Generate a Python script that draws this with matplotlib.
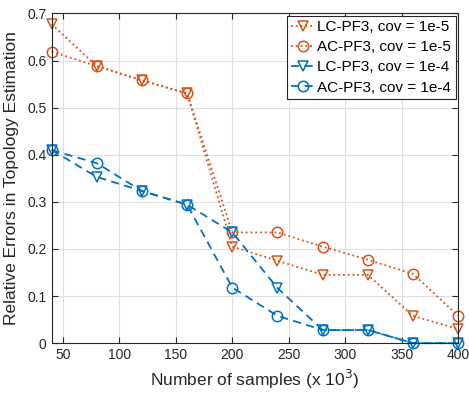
import matplotlib
matplotlib.use("Agg")
import matplotlib.pyplot as plt
from matplotlib.ticker import FuncFormatter

plt.rcParams["font.family"] = ["Liberation Sans", "DejaVu Sans"]

samples = [40, 80, 120, 160, 200, 240, 280, 320, 360, 400]
lc_cov5 = [0.677, 0.588, 0.558, 0.530, 0.205, 0.175, 0.145, 0.145, 0.058, 0.030]
ac_cov5 = [0.619, 0.588, 0.558, 0.530, 0.235, 0.235, 0.205, 0.177, 0.147, 0.058]
lc_cov4 = [0.410, 0.353, 0.323, 0.294, 0.235, 0.117, 0.028, 0.028, 0.0, 0.0]
ac_cov4 = [0.410, 0.382, 0.323, 0.294, 0.118, 0.058, 0.028, 0.028, 0.0, 0.0]

orange = "#D95319"
blue = "#0072BD"

fig = plt.figure(figsize=(4.69, 3.94), dpi=100)
ax = fig.add_axes([0.110, 0.129, 0.867, 0.837])

style = dict(markersize=7.5, markerfacecolor="none", markeredgewidth=1.1,
             linewidth=1.3, clip_on=False)
ax.plot(samples, lc_cov5, ":", color=orange, marker="v",
        label="LC-PF3, cov = 1e-5", **style)
ax.plot(samples, ac_cov5, ":", color=orange, marker="o",
        label="AC-PF3, cov = 1e-5", **style)
ax.plot(samples, lc_cov4, "--", color=blue, marker="v", dashes=(4.5, 3),
        label="LC-PF3, cov = 1e-4", **style)
ax.plot(samples, ac_cov4, "--", color=blue, marker="o", dashes=(4.5, 3),
        label="AC-PF3, cov = 1e-4", **style)

ax.set_xlim(40, 400)
ax.set_ylim(0, 0.7)
ax.set_xticks(range(50, 401, 50))
ax.set_yticks([i / 10 for i in range(8)])
ax.yaxis.set_major_formatter(FuncFormatter(lambda v, p: f"{v:g}"))
ax.tick_params(direction="in", length=4, labelsize=10, colors="#262626")
ax.tick_params(top=True, right=True)
ax.grid(True, color="#dfdfdf", linewidth=0.8)
ax.set_axisbelow(True)
for s in ax.spines.values():
    s.set_color("#262626")
    s.set_linewidth(0.8)

ax.set_xlabel("Number of samples (x 10$^3$)", fontsize=12.5, color="#262626")
ax.set_ylabel("Relative Errors in Topology Estimation", fontsize=12.5,
              color="#262626", labelpad=6)

leg = ax.legend(loc="upper right", fontsize=11, fancybox=False, framealpha=1,
                edgecolor="#262626", handlelength=1.5, handletextpad=0.2,
                borderpad=0.3, labelspacing=0.4, borderaxespad=0.15)
leg.get_frame().set_linewidth(0.8)

fig.savefig("out.png", dpi=100)
